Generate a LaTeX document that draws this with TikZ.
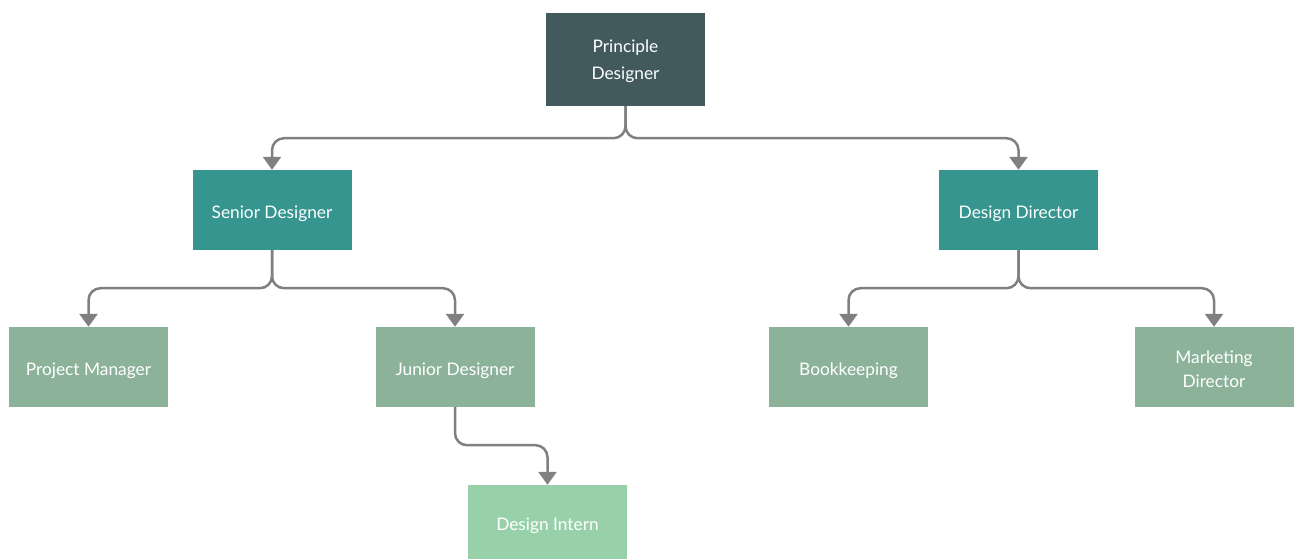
\documentclass[tikz,border=0pt]{standalone}
\usepackage{fontspec}
\setmainfont{Lato}
\usetikzlibrary{arrows.meta}
\definecolor{cdark}{HTML}{42595E}
\definecolor{cteal}{HTML}{36958F}
\definecolor{csage}{HTML}{8CB39A}
\definecolor{clight}{HTML}{98D0AA}
\definecolor{cline}{HTML}{808080}
\newcommand{\lowtxt}[1]{\raisebox{-2.5pt}[\height][\depth]{#1}}
\newcommand{\twoline}[2]{\raisebox{-2pt}[\height][\depth]{\parbox{150pt}{\centering #1\\#2}}}
\begin{document}
\begin{tikzpicture}[x=1pt,y=-1pt,
  box/.style={rectangle,inner sep=0pt,text=white,align=center,
    minimum width=159pt,minimum height=80pt,
    font=\fontsize{17.3}{27}\selectfont},
  oneline/.style={text height=11pt,text depth=0pt},
  link/.style={draw=cline,line width=2.5pt,rounded corners=12pt,
    -{Triangle[width=18pt,length=13pt]}}]
\useasboundingbox[fill=white] (0,0) rectangle (1294,559);
\node[box,fill=cdark,minimum height=93pt] (pd) at (625.5,59.5) {\twoline{Principle}{Designer}};
\node[box,oneline,fill=cteal] (sd) at (272,210) {\lowtxt{Senior Designer}};
\node[box,oneline,fill=cteal] (dd) at (1018.5,210) {\lowtxt{Design Director}};
\node[box,oneline,fill=csage] (pm) at (88.5,367) {\lowtxt{Project Manager}};
\node[box,oneline,fill=csage] (jd) at (455,367) {\lowtxt{Junior Designer}};
\node[box,oneline,fill=csage] (bk) at (848.5,367) {\lowtxt{Bookkeeping}};
\node[box,fill=csage,font=\fontsize{17.3}{24}\selectfont] (md) at (1214,367) {\twoline{Marketing}{Director}};
\node[box,oneline,fill=clight,minimum height=74pt] (di) at (547.5,522) {\lowtxt{Design Intern}};
\draw[link] (pd.south) -- ++(0,32) -| (sd.north);
\draw[link] (pd.south) -- ++(0,32) -| (dd.north);
\draw[link] (sd.south) -- ++(0,38) -| (pm.north);
\draw[link] (sd.south) -- ++(0,38) -| (jd.north);
\draw[link] (dd.south) -- ++(0,38) -| (bk.north);
\draw[link] (dd.south) -- ++(0,38) -| (md.north);
\draw[link] (jd.south) -- ++(0,38) -| (di.north);
\end{tikzpicture}
\end{document}
